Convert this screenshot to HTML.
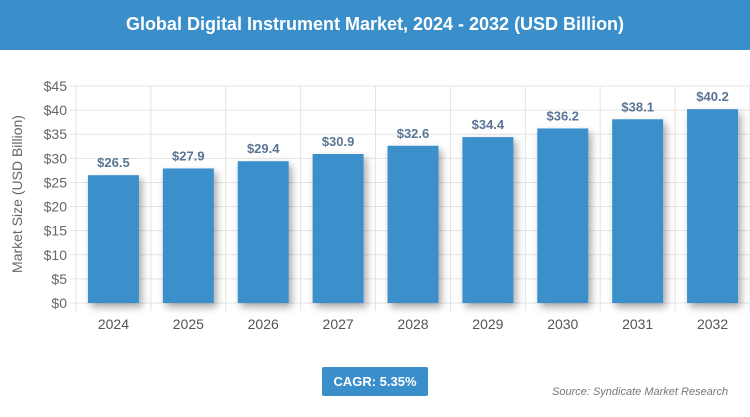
<!DOCTYPE html>
<html><head><meta charset="utf-8"><style>
body{margin:0;width:750px;height:417px;background:#fff;font-family:"Liberation Sans",sans-serif;overflow:hidden;position:relative}
#hdr{position:absolute;left:0;top:0;width:750px;height:50px;background:#3a8fcb;color:#fff;font-weight:bold;font-size:18px;text-align:center;line-height:48px}
#cagr{position:absolute;left:322px;top:367px;width:106px;height:29px;background:#3a8fcb;color:#fff;font-weight:bold;font-size:13px;text-align:center;line-height:29px;border-radius:2px}
#src{position:absolute;left:552px;top:386px;font-style:italic;font-size:11px;color:#777}
svg{position:absolute;left:0;top:0}
</style></head><body>
<div id="hdr">Global Digital Instrument Market, 2024 - 2032 (USD Billion)</div>
<svg id="chart" width="750" height="417">
<defs><filter id="sh" x="-30%" y="-10%" width="160%" height="130%"><feDropShadow dx="3" dy="4" stdDeviation="4" flood-color="#000" flood-opacity="0.35"/></filter></defs>
</svg>
<div id="cagr">CAGR: 5.35%</div>
<div id="src">Source: Syndicate Market Research</div>
<script>
const categories=["2024","2025","2026","2027","2028","2029","2030","2031","2032"];
const values=[26.5,27.9,29.4,30.9,32.6,34.4,36.2,38.1,40.2];
const yTicks=[0,5,10,15,20,25,30,35,40,45];
const svg=document.getElementById('chart');
const NS='http://www.w3.org/2000/svg';
const L=76,R=750,T=86,B=303,yMax=45;
const bw=(R-L)/categories.length;
const y=v=>B-(v/yMax)*(B-T);
const x=i=>L+i*bw;
function mk(t,a,txt){const e=document.createElementNS(NS,t);for(const k in a)e.setAttribute(k,a[k]);if(txt!==undefined)e.textContent=txt;svg.appendChild(e);return e;}
yTicks.forEach(t=>{
 const g=mk('line',{x1:L-6,x2:R,y1:y(t),y2:y(t),stroke:'#e3e3e3','stroke-width':1});
 
 
 const l=mk('text',{x:L-9,y:y(t)+5,'text-anchor':'end','font-size':14,fill:'#666'},'$'+t);
 
 
});
for(let i=0;i<=categories.length;i++){
 const g=mk('line',{x1:x(i),x2:x(i),y1:T,y2:B+8,stroke:'#e3e3e3','stroke-width':1});
 
 
}
categories.forEach((c,i)=>{
 const cx=x(i)+bw/2, w=51;
 const b=mk('rect',{x:cx-w/2,y:y(values[i]),width:w,height:B-y(values[i]),fill:'#3a8fcb',filter:'url(#sh)'});
 
 
 const v=mk('text',{x:cx,y:y(values[i])-8,'text-anchor':'middle','font-size':13,'font-weight':'bold',fill:'#5a7594'},'$'+values[i].toFixed(1));
 
 
 const l=mk('text',{x:cx,y:B+26,'text-anchor':'middle','font-size':14,fill:'#555'},c);
 
 
});
const t=mk('text',{x:0,y:0,transform:'translate(22,194) rotate(-90)','text-anchor':'middle','font-size':14,fill:'#666'},'Market Size (USD Billion)');


</script>
</body></html>
